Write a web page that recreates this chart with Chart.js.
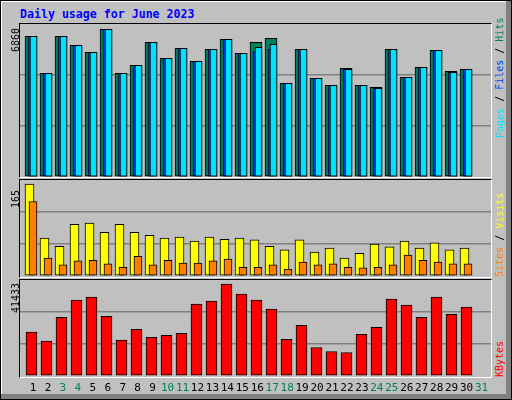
<!DOCTYPE html>
<html><head><meta charset="utf-8">
<script src="https://cdn.jsdelivr.net/npm/chart.js@4"></script>
<style>
body{margin:0;width:512px;height:400px;background:#000;position:relative;overflow:hidden;font-family:'DejaVu Sans Mono',monospace}
#sh{position:absolute;left:1px;top:1px;width:510px;height:398px;background:#808080}
#bg{position:absolute;left:1px;top:1px;width:504px;height:392px;background:#c0c0c0;border-left:1px solid #fff;border-top:1px solid #fff}
.pl{position:absolute;left:19px;width:471px;border-top:1px solid #000;border-left:1px solid #000;border-right:1px solid #fff;border-bottom:1px solid #fff}
canvas{position:absolute}
.rot{position:absolute;transform:rotate(-90deg);transform-origin:0 0;white-space:nowrap;font-size:10px}
.day{position:absolute;top:381px;font-size:11px;width:20px;text-align:center}
#title{position:absolute;left:20px;top:7px;color:#0000ff;font-weight:bold;font-size:11.6px}
</style></head><body>
<div id="sh"></div><div id="bg"></div>
<div id="title">Daily usage for June 2023</div>
<div class="pl" style="top:23px;height:153px"></div>
<div class="pl" style="top:179px;height:97px"></div>
<div class="pl" style="top:279px;height:97px"></div>
<canvas id="c1" style="left:20px;top:24px;width:471px;height:153px"></canvas>
<canvas id="c2" style="left:20px;top:180px;width:471px;height:96px"></canvas>
<canvas id="c3" style="left:20px;top:280px;width:471px;height:96px"></canvas>
<div class="rot" style="left:10px;top:52px">6860</div>
<div class="rot" style="left:10px;top:208px">165</div>
<div class="rot" style="left:10px;top:313px">41433</div>
<div class="rot" style="left:494px;top:138px"><span style="color:#00e0ff">Pages</span> / <span style="color:#0040ff">Files</span> / <span style="color:#00805c">Hits</span></div>
<div class="rot" style="left:494px;top:277px"><span style="color:#ff8000">Sites</span> / <span style="color:#ffff00">Visits</span></div>
<div class="rot" style="left:494px;top:377px"><span style="color:#ff0000">KBytes</span></div>
<div id="days"></div>
<script>
const days=[1,2,3,4,5,6,7,8,9,10,11,12,13,14,15,16,17,18,19,20,21,22,23,24,25,26,27,28,29,30,31];
const weekend=[3,4,10,11,17,18,24,25,31];
const hits=[6308,4649,6308,5904,5591,6622,4649,5008,6039,5322,5770,5187,5725,6174,5546,6039,6219,4201,5725,4425,4111,4874,4111,4022,5725,4470,4919,5681,4739,4829,0];
const files=[6308,4649,6308,5904,5591,6622,4649,5008,6039,5322,5770,5187,5725,6174,5546,5650,5725,4201,5725,4425,4111,4829,4111,3977,5725,4470,4919,5681,4694,4829,0];
const pages=[6308,4649,6308,5904,5591,6622,4649,5008,6039,5322,5770,5187,5725,6174,5546,5815,5950,4201,5725,4425,4111,4829,4111,3977,5725,4470,4919,5681,4694,4829,0];
const visits=[158,65,51,89,91,75,89,75,70,65,67,60,67,63,65,62,51,45,62,41,48,31,39,55,50,60,48,57,45,48,0];
const sites=[128,31,19,26,27,21,15,34,19,27,22,22,26,29,15,15,19,12,24,19,21,15,14,15,19,36,27,24,21,21,0];
const kbytes=[18978,15066,25352,32741,34044,25787,15501,20137,16660,17529,18398,31002,32306,39694,35348,32741,28829,15791,21875,12314,10576,10141,17964,21006,33175,30568,25352,34044,26656,29698,0];
const maxPFH=6860, maxSV=165, maxKB=41433;

const MIN=0.267, MAX=31.667, PX=471/(MAX-MIN);
function xa(shiftPx){const s=shiftPx/PX;return {type:'linear',display:false,offset:false,grid:{offset:false},min:MIN-s,max:MAX-s};}
function ds(data,color,axis,w,order){return {data:days.map((d,i)=>({x:d,y:data[i]})),backgroundColor:color,borderColor:'#000',borderWidth:1,borderSkipped:false,xAxisID:axis,barThickness:w,grouped:false,order:order};}
function make(id,max,sets,axes){
  const scales=Object.assign({y:{min:0,max:max,display:true,border:{display:false},
    afterBuildTicks:a=>{a.ticks=[0,max/3,2*max/3,max].map(v=>({value:v}));},
    afterFit:a=>{a.width=0;},
    ticks:{display:false},grid:{drawTicks:false,color:c=>(c.index===1||c.index===2)?'#808080':'rgba(0,0,0,0)',lineWidth:1.5}}},axes);
  new Chart(document.getElementById(id),{type:'bar',data:{datasets:sets},
    options:{responsive:false,animation:false,devicePixelRatio:1,layout:{padding:0},
      plugins:{legend:{display:false},tooltip:{enabled:false}},scales:scales}});
}
[['c1',471,153],['c2',471,96],['c3',471,96]].forEach(([id,w,h])=>{const c=document.getElementById(id);c.width=w;c.height=h;});
make('c1',maxPFH,[ds(pages,'#00e0ff','xp',7,1),ds(files,'#0040ff','xf',9,2),ds(hits,'#00805c','xh',12,3)],{xh:xa(0),xf:xa(1.5),xp:xa(2.5)});
make('c2',maxSV,[ds(sites,'#ff8000','xs',8,1),ds(visits,'#ffff00','xv',9,2)],{xv:xa(-1.5),xs:xa(2)});
make('c3',maxKB,[ds(kbytes,'#ff0000','xk',11,1)],{xk:xa(0.5)});
const dd=document.getElementById('days');
days.forEach((d,i)=>{const s=document.createElement('div');s.className='day';s.textContent=d;
  s.style.left=(23+i*14.95)+'px';s.style.color=weekend.includes(d)?'#00805c':'#000';dd.appendChild(s);});
</script>
</body></html>
